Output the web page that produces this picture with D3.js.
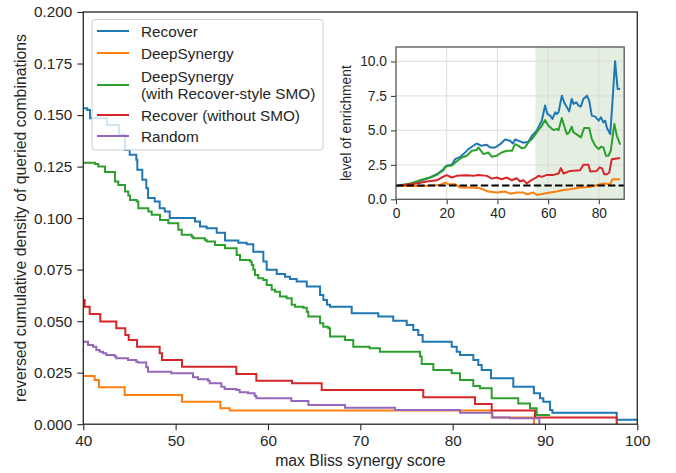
<!DOCTYPE html>
<html>
<head>
<meta charset="utf-8">
<script src="https://cdn.jsdelivr.net/npm/d3@7"></script>
<style>
  html, body { margin: 0; padding: 0; background: #fff; }
  svg { display: block; font-family: "Liberation Sans", Arial, sans-serif; }
</style>
</head>
<body>
<svg id="chart" width="676" height="473"></svg>
<script>
// Reversed cumulative density steps: [score threshold, density above threshold]
const recoverSteps = [
  [38, 0.1533], [40.43, 0.1525], [40.73, 0.1485], [42.57, 0.1452], [43.87, 0.1404],
  [44.52, 0.1331], [45.03, 0.1307], [45.74, 0.1283], [45.85, 0.1234], [46.39, 0.1186],
  [46.82, 0.1145], [47.01, 0.1097], [47.73, 0.1080], [48.27, 0.1048], [48.82, 0.1032],
  [49.36, 0.1000], [52.10, 0.0983], [52.64, 0.0959], [53.36, 0.0951], [54.45, 0.0929],
  [55.35, 0.0891], [56.79, 0.0881], [57.70, 0.0873], [58.41, 0.0837], [59.50, 0.0789],
  [59.86, 0.0749], [60.95, 0.0729], [61.85, 0.0716], [62.39, 0.0705], [63.11, 0.0692],
  [64.20, 0.0668], [65.64, 0.0627], [66.00, 0.0603], [66.39, 0.0580], [66.72, 0.0570],
  [69.07, 0.0538], [71.95, 0.0522], [73.57, 0.0502], [75.03, 0.0481], [75.74, 0.0457],
  [76.28, 0.0433], [76.75, 0.0400], [79.90, 0.0376], [80.44, 0.0352], [80.80, 0.0336],
  [82.24, 0.0312], [82.78, 0.0287], [83.15, 0.0263], [84.15, 0.0223], [86.57, 0.0182],
  [88.80, 0.0150], [89.46, 0.0126], [89.82, 0.0109], [90.55, 0.0069], [90.80, 0.0055],
  [97.77, 0.0022], [103, 0.0022]
];
const deepSynergySteps = [
  [38, 0.0234], [41.23, 0.0215], [41.70, 0.0179], [44.48, 0.0142], [50.69, 0.0109],
  [54.84, 0.0077], [55.86, 0.0066], [84.23, 0.0033], [88.81, 0], [88.81, 0]
];
const deepSynergySmoSteps = [
  [38, 0.1269], [41.27, 0.1262], [41.62, 0.1250], [42.35, 0.1224], [43.43, 0.1177],
  [43.79, 0.1161], [44.52, 0.1129], [44.87, 0.1110], [45.06, 0.1088], [45.78, 0.1080],
  [45.96, 0.1048], [47.04, 0.1032], [47.41, 0.1016], [48.31, 0.0991], [49.21, 0.0975],
  [50.29, 0.0943], [50.66, 0.0919], [51.74, 0.0910], [51.91, 0.0902], [53.18, 0.0894],
  [53.36, 0.0886], [54.26, 0.0870], [55.35, 0.0854], [56.61, 0.0821], [56.97, 0.0797],
  [58.06, 0.0789], [58.24, 0.0773], [58.41, 0.0749], [58.60, 0.0724], [58.95, 0.0708],
  [59.50, 0.0700], [59.86, 0.0676], [60.40, 0.0652], [60.76, 0.0643], [61.30, 0.0619],
  [62.03, 0.0611], [62.57, 0.0579], [62.93, 0.0570], [63.83, 0.0565], [64.20, 0.0546],
  [64.37, 0.0522], [65.64, 0.0490], [65.99, 0.0473], [66.53, 0.0466], [66.72, 0.0425],
  [68.34, 0.0409], [69.24, 0.0376], [71.00, 0.0368], [72.13, 0.0352], [76.47, 0.0328],
  [76.65, 0.0292], [77.91, 0.0263], [79.90, 0.0247], [80.80, 0.0215], [82.24, 0.0185],
  [82.96, 0.0174], [84.23, 0.0126], [87.11, 0.0101], [88.38, 0.0077], [89.10, 0.0045],
  [90.55, 0.0045]
];
const recoverNoSmoSteps = [
  [38, 0.0603], [40.15, 0.0570], [40.69, 0.0535], [41.84, 0.0498], [43.57, 0.0466],
  [44.55, 0.0433], [44.92, 0.0409], [45.82, 0.0376], [48.27, 0.0344], [48.52, 0.0312],
  [50.69, 0.0279], [56.57, 0.0244], [58.74, 0.0211], [62.60, 0.0199], [65.82, 0.0166],
  [76.82, 0.0131], [82.42, 0.0098], [84.23, 0.0066], [88.92, 0.0033], [97.77, 0], [97.77, 0]
];
const randomSteps = [
  [38, 0.0400], [40.51, 0.0384], [41.05, 0.0376], [41.41, 0.0360], [41.78, 0.0352],
  [42.13, 0.0344], [42.49, 0.0336], [43.40, 0.0328], [43.57, 0.0320], [44.84, 0.0312],
  [45.74, 0.0303], [45.92, 0.0299], [46.82, 0.0276], [47.01, 0.0255], [49.53, 0.0247],
  [51.88, 0.0228], [52.42, 0.0218], [53.51, 0.0211], [53.69, 0.0199], [54.95, 0.0182],
  [55.31, 0.0171], [56.57, 0.0166], [56.94, 0.0155], [57.84, 0.0150], [58.56, 0.0137],
  [58.74, 0.0126], [62.53, 0.0113], [64.38, 0.0093], [68.34, 0.0080], [73.76, 0.0069],
  [80.80, 0.0056], [84.30, 0.0033], [86.20, 0.0029], [89.39, 0], [89.39, 0]
];

// Enrichment over random, by score threshold: [threshold, enrichment]
const recoverEnrich = [
  [0, 0.97], [5.5, 1.09], [9.5, 1.33], [13.4, 1.58], [16.1, 1.82], [18.7, 2.18], [20.0, 2.43],
  [22.0, 2.50], [23.3, 2.91], [25.3, 3.08], [26.6, 3.28], [28.6, 3.64], [29.9, 3.81],
  [31.8, 4.05], [33.8, 3.88], [35.8, 3.96], [37.1, 3.76], [39.1, 3.76], [41.1, 4.00],
  [43.0, 4.34], [45.0, 4.25], [46.1, 4.05], [47.0, 4.34], [48.9, 4.20], [50.3, 4.10],
  [52.2, 4.17], [53.6, 4.61], [55.5, 4.98], [57.5, 5.70], [58.8, 6.80], [59.7, 6.19],
  [60.8, 6.07], [61.7, 5.83], [62.8, 6.31], [63.4, 6.19], [64.1, 6.31], [65.4, 7.52],
  [66.3, 7.04], [67.4, 6.67], [68.3, 6.38], [69.3, 7.28], [70.0, 6.92], [71.1, 7.04],
  [72.0, 6.80], [72.9, 6.72], [73.9, 7.28], [75.3, 7.52], [76.2, 7.16], [77.2, 6.07],
  [78.6, 6.00], [79.9, 5.70], [80.8, 5.95], [81.8, 5.58], [82.5, 5.70], [83.2, 5.17],
  [84.5, 4.73], [85.4, 7.16], [86.4, 10.02], [87.4, 8.01], [88.4, 8.01]
];
const deepSynergyEnrich = [
  [0, 0.97], [10.8, 0.97], [17.4, 1.04], [19.3, 1.21], [20.7, 1.09], [23.3, 1.09],
  [25.3, 0.85], [29.2, 0.85], [33.2, 0.80], [36.4, 0.56], [39.7, 0.49], [43.0, 0.56],
  [45.0, 0.41], [47.6, 0.49], [50.3, 0.49], [51.6, 0.36], [54.2, 0.49], [55.5, 0.32],
  [58.2, 0.41], [60.8, 0.49], [63.4, 0.56], [66.1, 0.68], [68.7, 0.73], [72.6, 0.85],
  [75.9, 0.90], [77.9, 0.97], [81.8, 1.14], [84.5, 1.09], [85.4, 1.46], [88.4, 1.46]
];
const deepSynergySmoEnrich = [
  [0, 0.97], [5.5, 1.14], [9.5, 1.38], [13.4, 1.58], [16.1, 1.77], [18.7, 2.11], [19.3, 2.35],
  [20.7, 2.43], [22.0, 2.45], [23.9, 2.74], [25.9, 3.03], [27.9, 3.16], [29.9, 3.52],
  [31.8, 3.57], [32.5, 3.76], [34.5, 3.28], [36.4, 3.40], [37.8, 3.08], [39.7, 3.16],
  [41.7, 3.40], [43.7, 3.52], [45.7, 3.52], [47.0, 4.00], [48.3, 3.88], [49.6, 3.71],
  [50.9, 3.76], [52.2, 4.13], [53.6, 4.37], [55.5, 4.85], [57.5, 5.34], [58.8, 5.75],
  [60.1, 5.34], [62.1, 5.02], [63.4, 5.10], [64.1, 5.02], [65.4, 5.90], [66.3, 5.34],
  [67.4, 4.73], [68.3, 4.85], [69.3, 5.27], [70.0, 4.85], [71.1, 4.73], [72.9, 4.49],
  [74.2, 5.17], [76.2, 5.17], [77.2, 4.37], [78.6, 3.88], [79.9, 3.64], [80.8, 3.81],
  [81.8, 3.76], [82.8, 3.16], [83.8, 3.16], [84.7, 3.52], [86.1, 5.46], [87.1, 4.61],
  [88.4, 3.96]
];
const recoverNoSmoEnrich = [
  [0, 0.97], [8.2, 1.14], [12.1, 1.29], [16.1, 1.38], [18.0, 1.58], [20.0, 1.75],
  [22.0, 1.58], [23.9, 1.70], [27.9, 1.75], [30.5, 1.70], [32.5, 1.77], [35.8, 1.70],
  [37.8, 1.50], [39.7, 1.58], [41.7, 1.46], [43.7, 1.58], [45.7, 1.38], [47.6, 1.53],
  [48.9, 1.29], [50.3, 1.38], [51.6, 1.14], [52.9, 1.33], [54.9, 1.53], [56.2, 1.70],
  [57.5, 1.63], [59.5, 1.77], [62.1, 1.77], [64.1, 1.87], [65.0, 2.26], [66.1, 1.87],
  [68.7, 2.06], [72.6, 2.11], [73.9, 2.50], [75.9, 2.50], [76.6, 2.01], [79.2, 2.06],
  [80.3, 2.31], [81.2, 2.26], [82.1, 1.82], [83.2, 1.82], [84.1, 1.94], [85.1, 2.91],
  [88.4, 2.99]
];

const seriesNames = ["Recover", "DeepSynergy", "DeepSynergy\n(with Recover-style SMO)", "Recover (without SMO)", "Random"];
const seriesColors = ["#1f77b4", "#ff7f0e", "#2ca02c", "#d62728", "#9467bd"];
const mainXTicks = [40, 50, 60, 70, 80, 90, 100];
const mainYTicks = [0, 0.025, 0.05, 0.075, 0.1, 0.125, 0.15, 0.175, 0.2];
const insetXTicks = [0, 20, 40, 60, 80];
const insetYTicks = [0, 2.5, 5, 7.5, 10];
const highlightStart = 55;
const baselineLevel = 1;

const svg = d3.select("#chart");
const ink = "#262626";
const tickFont = "15.3px";
const labelFont = "15.8px";
const insetFont = "13.8px";

// ---------- main axes ----------
const M = { left: 83.3, right: 637.3, top: 12, bottom: 424.2 };
const x = d3.scaleLinear().domain([40, 100]).range([M.left, M.right]);
const y = d3.scaleLinear().domain([0, 0.2]).range([M.bottom, M.top]);

svg.append("defs").append("clipPath").attr("id", "mainClip")
  .append("rect").attr("x", M.left).attr("y", M.top - 2)
  .attr("width", M.right - M.left).attr("height", M.bottom - M.top + 4);

const stepLine = d3.line().x(d => x(d[0])).y(d => y(d[1])).curve(d3.curveStepAfter);
const mainSeries = [recoverSteps, deepSynergySteps, deepSynergySmoSteps, recoverNoSmoSteps, randomSteps];
const gLines = svg.append("g").attr("clip-path", "url(#mainClip)");
mainSeries.forEach((s, i) => {
  gLines.append("path").datum(s)
    .attr("d", stepLine).attr("fill", "none")
    .attr("stroke", seriesColors[i]).attr("stroke-width", 2)
    .attr("stroke-linejoin", "miter").attr("stroke-linecap", "butt");
});

// axes
const xAxis = svg.append("g").attr("transform", `translate(0,${M.bottom})`)
  .call(d3.axisBottom(x).tickValues(mainXTicks).tickSize(6).tickPadding(5).tickFormat(d3.format("d")));
const yAxis = svg.append("g").attr("transform", `translate(${M.left},0)`)
  .call(d3.axisLeft(y).tickValues(mainYTicks).tickSize(6).tickPadding(5).tickFormat(d3.format(".3f")));
[xAxis, yAxis].forEach(a => {
  a.select(".domain").remove();
  a.selectAll(".tick line").attr("stroke", ink).attr("stroke-width", 1.1);
  a.selectAll(".tick text").attr("fill", ink).style("font-size", tickFont)
    .style("font-family", '"Liberation Sans", Arial, sans-serif');
});
// frame
svg.append("rect").attr("x", M.left).attr("y", M.top)
  .attr("width", M.right - M.left).attr("height", M.bottom - M.top)
  .attr("fill", "none").attr("stroke", ink).attr("stroke-width", 1.3);

svg.append("text").attr("x", (M.left + M.right) / 2).attr("y", 466)
  .attr("text-anchor", "middle").attr("fill", ink).style("font-size", labelFont)
  .text("max Bliss synergy score");
svg.append("text").attr("transform", `translate(25.5,${(M.top + M.bottom) / 2}) rotate(-90)`)
  .attr("text-anchor", "middle").attr("fill", ink).style("font-size", labelFont)
  .text("reversed cumulative density of queried combinations");

// ---------- legend ----------
const leg = svg.append("g");
leg.append("rect").attr("x", 92).attr("y", 19.5).attr("width", 231).attr("height", 130.5)
  .attr("rx", 3).attr("fill", "#fff").attr("fill-opacity", 0.8)
  .attr("stroke", "#cccccc").attr("stroke-width", 1);
const legRows = [31, 53, 85, 115, 136];
seriesNames.forEach((name, i) => {
  const cy = legRows[i];
  leg.append("line").attr("x1", 97).attr("x2", 129).attr("y1", cy).attr("y2", cy)
    .attr("stroke", seriesColors[i]).attr("stroke-width", 2);
  const lines = name.split("\n");
  const t = leg.append("text").attr("x", 141).attr("fill", ink).style("font-size", tickFont);
  const lh = 17;
  lines.forEach((ln, k) => {
    t.append("tspan").attr("x", 141)
      .attr("y", cy + 5.5 + (k - (lines.length - 1) / 2) * lh).text(ln);
  });
});

// ---------- inset ----------
const I = { left: 396, right: 624.2, top: 47, bottom: 199.3 };
const ix = d3.scaleLinear().domain([0, 90]).range([I.left, I.right]);
const iy = d3.scaleLinear().domain([0, 11.05]).range([I.bottom, I.top]);
const inset = svg.append("g");
inset.append("rect").attr("x", I.left).attr("y", I.top)
  .attr("width", I.right - I.left).attr("height", I.bottom - I.top).attr("fill", "#fff");
inset.append("rect").attr("x", ix(highlightStart)).attr("y", I.top)
  .attr("width", ix(90) - ix(highlightStart)).attr("height", I.bottom - I.top)
  .attr("fill", "#e4eee1");
// grid
inset.selectAll(".vg").data(insetXTicks.filter(d => d > 0)).enter().append("line")
  .attr("x1", d => ix(d)).attr("x2", d => ix(d)).attr("y1", I.top).attr("y2", I.bottom)
  .attr("stroke", "#d9d9d9").attr("stroke-opacity", 0.75).attr("stroke-width", 1.2);
inset.selectAll(".hg").data(insetYTicks.filter(d => d > 0)).enter().append("line")
  .attr("x1", I.left).attr("x2", I.right).attr("y1", d => iy(d)).attr("y2", d => iy(d))
  .attr("stroke", "#d9d9d9").attr("stroke-opacity", 0.75).attr("stroke-width", 1.2);

const insetLine = d3.line().x(d => ix(d[0])).y(d => iy(d[1]));
const insetSeries = [recoverEnrich, deepSynergyEnrich, deepSynergySmoEnrich, recoverNoSmoEnrich];
insetSeries.forEach((s, i) => {
  inset.append("path").datum(s).attr("d", insetLine).attr("fill", "none")
    .attr("stroke", seriesColors[i]).attr("stroke-width", 2).attr("stroke-linejoin", "round");
});
inset.append("line").attr("x1", ix(0)).attr("x2", ix(90))
  .attr("y1", iy(baselineLevel)).attr("y2", iy(baselineLevel))
  .attr("stroke", "#000").attr("stroke-width", 2).attr("stroke-dasharray", "7.4,3.2");

const ixAxis = inset.append("g").attr("transform", `translate(0,${I.bottom})`)
  .call(d3.axisBottom(ix).tickValues(insetXTicks).tickSize(5).tickPadding(4).tickFormat(d3.format("d")));
const iyAxis = inset.append("g").attr("transform", `translate(${I.left},0)`)
  .call(d3.axisLeft(iy).tickValues(insetYTicks).tickSize(5).tickPadding(4).tickFormat(d3.format(".1f")));
[ixAxis, iyAxis].forEach(a => {
  a.select(".domain").remove();
  a.selectAll(".tick line").attr("stroke", "#444").attr("stroke-width", 1.1);
  a.selectAll(".tick text").attr("fill", ink).style("font-size", insetFont)
    .style("font-family", '"Liberation Sans", Arial, sans-serif');
});
inset.append("rect").attr("x", I.left).attr("y", I.top)
  .attr("width", I.right - I.left).attr("height", I.bottom - I.top)
  .attr("fill", "none").attr("stroke", "#555").attr("stroke-width", 1.3);
inset.append("text").attr("transform", `translate(351,${(I.top + I.bottom) / 2}) rotate(-90)`)
  .attr("text-anchor", "middle").attr("fill", ink).style("font-size", insetFont)
  .text("level of enrichment");
</script>
</body>
</html>
